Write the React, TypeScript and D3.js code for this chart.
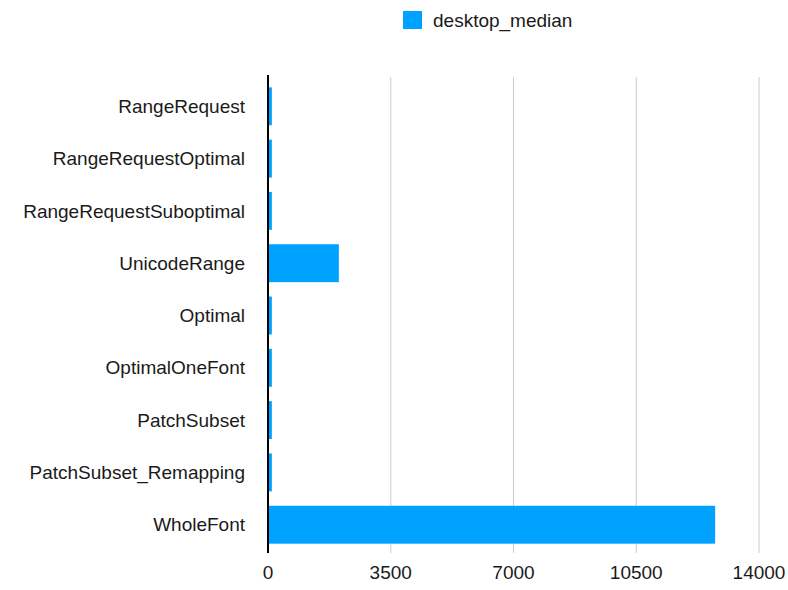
import React from 'react';
import * as d3 from 'd3';

const categories = [
  'RangeRequest',
  'RangeRequestOptimal',
  'RangeRequestSuboptimal',
  'UnicodeRange',
  'Optimal',
  'OptimalOneFont',
  'PatchSubset',
  'PatchSubset_Remapping',
  'WholeFont',
];
const desktopMedian = [110, 110, 110, 2020, 110, 110, 110, 110, 12750];
const xTicks = [0, 3500, 7000, 10500, 14000];
const seriesName = 'desktop_median';

const width = 788;
const height = 590;
const left = 268;
const right = 759;
const top = 80;
const bottom = 551;
const color = '#00a2ff';
const font = '"Liberation Sans", Arial, Helvetica, sans-serif';

const App: React.FC = () => {
  const x = d3.scaleLinear().domain([0, 14000]).range([left, right]);
  const y = d3.scaleBand<string>().domain(categories).range([top, bottom]).paddingInner(0.275).paddingOuter(0.14);

  return (
    <svg width={width} height={height} style={{ position: 'absolute', left: 0, top: 0 }} fontFamily={font}>
      <rect width={width} height={height} fill="#fff" />
      {/* legend */}
      <rect x={403} y={11} width={19} height={18} fill={color} />
      <text x={433} y={27} fontSize={19} fill="#1a1a1a">{seriesName}</text>

      {/* gridlines */}
      {xTicks.slice(1).map(t => (
        <line key={t} x1={x(t)} x2={x(t)} y1={77} y2={553} stroke="#cccccc" strokeWidth={1} />
      ))}

      {/* bars */}
      {categories.map((c, i) => (
        <rect key={c} x={x(0)} y={y(c)} width={x(desktopMedian[i]) - x(0)} height={y.bandwidth()} fill={color} />
      ))}

      {/* axis line */}
      <line x1={x(0)} x2={x(0)} y1={75} y2={553} stroke="#000" strokeWidth={2} />

      {/* category labels */}
      {categories.map(c => (
        <text key={c} x={245} y={(y(c) ?? 0) + y.bandwidth() / 2} dy="0.35em" textAnchor="end" fontSize={19} fill="#1a1a1a">
          {c}
        </text>
      ))}

      {/* tick labels */}
      {xTicks.map(t => (
        <text key={t} x={x(t)} y={579} textAnchor="middle" fontSize={19} fill="#1a1a1a">
          {t}
        </text>
      ))}
    </svg>
  );
};

export default App;
